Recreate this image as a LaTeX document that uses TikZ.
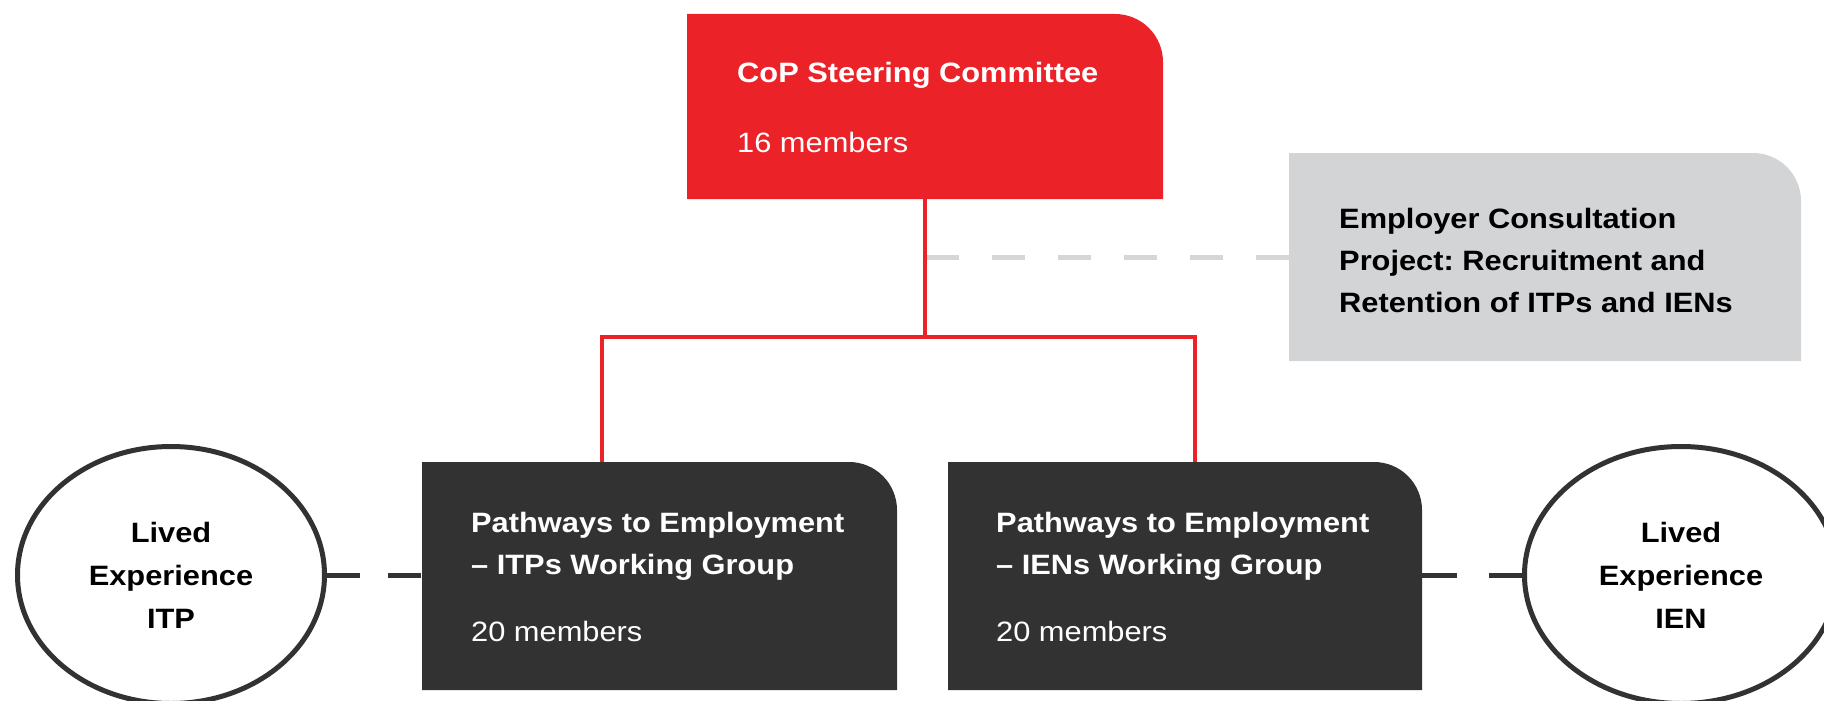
\documentclass[tikz,border=0pt]{standalone}
\usepackage{fontspec}
\setmainfont[FakeStretch=1.1]{Liberation Sans}
\usetikzlibrary{shapes.geometric}
\definecolor{copred}{HTML}{EC2229}
\definecolor{wgdark}{HTML}{323232}
\definecolor{projgray}{HTML}{D3D4D6}
\definecolor{dashgray}{HTML}{D6D6D6}
\frenchspacing

% filled panel with one rounded (top right) corner
\newcommand\tabpanel[2]{%
  \fill[#2] (#1.south west) -- (#1.north west)
    -- ([xshift=-48pt]#1.north east)
    arc[start angle=90, end angle=0, radius=48pt]
    -- (#1.south east) -- cycle;}

\begin{document}
\begin{tikzpicture}[x=1pt, y=-1pt,
  panel/.style={shape=rectangle, inner sep=0pt, outer sep=0pt},
  headtext/.style={anchor=base west, inner sep=0pt,
    font=\fontsize{28}{34}\selectfont\bfseries},
  counttext/.style={anchor=base west, inner sep=0pt,
    font=\fontsize{28}{34}\selectfont},
  lived/.style={ellipse, draw=wgdark, line width=5pt, fill=white,
    minimum height=257pt, inner sep=0pt,
    align=center, font=\fontsize{28}{43}\selectfont\bfseries},
  redline/.style={draw=copred, line width=4pt},
  graydash/.style={draw=dashgray, line width=5pt, dash pattern=on 33pt off 33pt},
  darkdash/.style={draw=wgdark, line width=5pt}]
\useasboundingbox (0,0) rectangle (1824,701);

% panels
\node[panel, minimum width=476pt, minimum height=185pt] (stc) at (925,106.5) {};
\node[panel, minimum width=512pt, minimum height=208pt] (emp) at (1545,257) {};
\node[panel, minimum width=475pt, minimum height=228pt] (itp) at (659.5,576) {};
\node[panel, minimum width=474pt, minimum height=228pt] (ien) at (1185,576) {};
\tabpanel{stc}{copred}
\tabpanel{emp}{projgray}
\tabpanel{itp}{wgdark}
\tabpanel{ien}{wgdark}

% lived experience groups
\node[lived, minimum width=307pt] (lvitp) at (171,575) {Lived\\Experience\\ITP};
\node[lived, minimum width=313pt] (lvien) at (1681,575) {Lived\\Experience\\IEN};

% connectors
\coordinate (jn) at (925,337);
\draw[graydash] (emp.west) -- (emp.west -| stc.south);
\draw[redline] (stc.south) -- (jn);
\draw[redline, line join=miter]
  ([xshift=180pt]itp.north west) |- (jn) -| ([xshift=247pt]ien.north west);
\draw[darkdash, dash pattern=on 33pt off 28pt] (lvitp.east) -- (itp.west |- lvitp.east);
\draw[darkdash, dash pattern=on 35pt off 32pt] (ien.east |- lvien.west) -- (lvien.west);

% panel texts
\node[headtext, text=white] (stcname) at (737,83) {CoP Steering Committee};
\node[counttext, text=white] (stccount) at (737,152) {16 members};

\node[headtext, text=black] (emp1) at (1339,228) {Employer Consultation};
\node[headtext, text=black] (emp2) at (1339,270) {Project: Recruitment and};
\node[headtext, text=black] (emp3) at (1339,312) {Retention of ITPs and IENs};

\node[headtext, text=white] (itp1) at (471,532) {Pathways to Employment};
\node[headtext, text=white] (itp2) at (471,574) {– ITPs Working Group};
\node[counttext, text=white] (itpcount) at (471,641) {20 members};

\node[headtext, text=white] (ien1) at (996,532) {Pathways to Employment};
\node[headtext, text=white] (ien2) at (996,574) {– IENs Working Group};
\node[counttext, text=white] (iencount) at (996,641) {20 members};
\end{tikzpicture}
\end{document}
